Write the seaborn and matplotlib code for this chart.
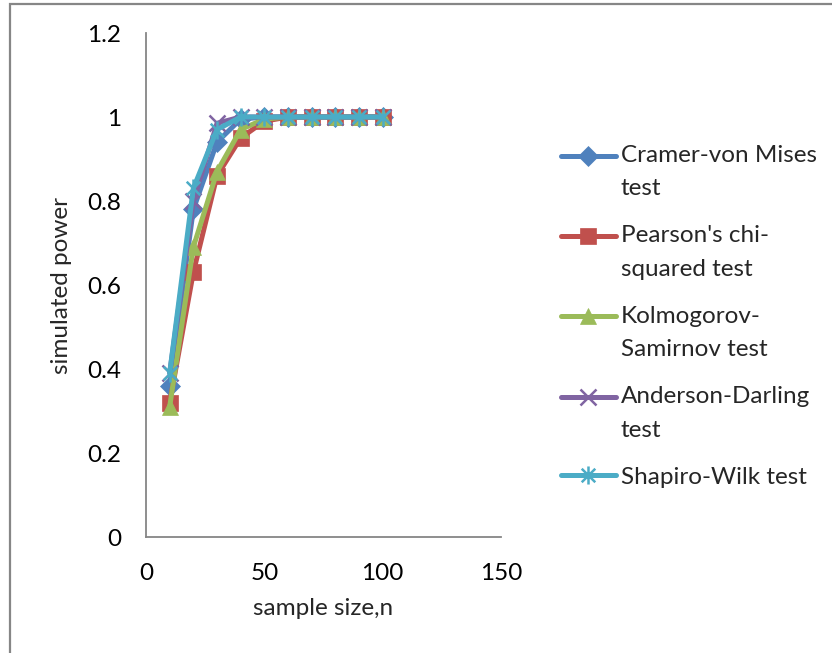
import seaborn as sns
import matplotlib.pyplot as plt
import matplotlib.patches as mpatches
from matplotlib.path import Path
from matplotlib.legend_handler import HandlerLine2D
from matplotlib.lines import Line2D
from matplotlib.font_manager import FontProperties

# sample sizes and simulated power per test
n = [10, 20, 30, 40, 50, 60, 70, 80, 90, 100]
cramer = [0.36, 0.78, 0.94, 0.995, 1.0, 1.0, 1.0, 1.0, 1.0, 1.0]
pearson = [0.32, 0.63, 0.86, 0.95, 0.99, 1.0, 1.0, 1.0, 1.0, 1.0]
kolmogorov = [0.31, 0.69, 0.87, 0.97, 0.995, 1.0, 1.0, 1.0, 1.0, 1.0]
anderson = [0.39, 0.80, 0.985, 1.0, 1.0, 1.0, 1.0, 1.0, 1.0, 1.0]
shapiro = [0.39, 0.83, 0.97, 1.0, 1.0, 1.0, 1.0, 1.0, 1.0, 1.0]

labels = ["Cramer-von Mises\ntest", "Pearson's chi-\nsquared test",
          "Kolmogorov-\nSamirnov test", "Anderson-Darling\ntest",
          "Shapiro-Wilk test"]
colors = ["#4F81BD", "#C0504D", "#9BBB59", "#8064A2", "#4BACC6"]

# excel style asterisk: vertical bar plus an X
star = Path([(0, -1), (0, 1), (-0.75, -0.75), (0.75, 0.75), (-0.75, 0.75), (0.75, -0.75)],
            [Path.MOVETO, Path.LINETO, Path.MOVETO, Path.LINETO, Path.MOVETO, Path.LINETO])
markers = ["D", "s", "^", "x", star]
msizes = [10, 12, 12, 11, 13]

FS = 17.5
DPI = 100


class FirstLineHandler(HandlerLine2D):
    # put the legend handle next to the first text line (like Excel)
    def __init__(self, shift, **kw):
        super().__init__(**kw)
        self.shift = shift

    def create_artists(self, legend, orig_handle, xdescent, ydescent,
                       width, height, fontsize, trans):
        arts = super().create_artists(legend, orig_handle, xdescent, ydescent,
                                      width, height, fontsize, trans)
        for a in arts:
            if isinstance(a, Line2D):
                a.set_ydata([y + self.shift for y in a.get_ydata()])
        return arts


sns.set_style("white")
plt.rcParams['font.family'] = ['Lato', 'DejaVu Sans']

fig = plt.figure(figsize=(8.32, 6.53), dpi=DPI)
ax = fig.add_axes([146 / 832, 1 - 537 / 653, (501 - 146) / 832, (537 - 33) / 653])

series = [cramer, pearson, kolmogorov, anderson, shapiro]
for vals, lab, col, mk, ms in zip(series, labels, colors, markers, msizes):
    sns.lineplot(x=n, y=vals, ax=ax, color=col, marker=mk, markersize=ms,
                 markeredgecolor=col,
                 markeredgewidth=1.8 if (mk is star or mk == "x") else 0.5,
                 linewidth=3.6, label=lab)

ax.set_xlim(0, 150)
ax.set_ylim(0, 1.2)
ax.set_xticks([0, 50, 100, 150])
ax.set_yticks([0, 0.2, 0.4, 0.6, 0.8, 1.0, 1.2])
ax.set_yticklabels(["0", "0.2", "0.4", "0.6", "0.8", "1", "1.2"])
ax.tick_params(length=0, labelsize=FS, colors="black")
ax.tick_params(axis="y", pad=18)
ax.tick_params(axis="x", pad=19)
ax.set_xlabel("sample size,n", fontsize=FS, labelpad=10)
ax.set_ylabel("simulated power", fontsize=FS, labelpad=11)

for side in ["top", "right"]:
    ax.spines[side].set_visible(False)
for side in ["left", "bottom"]:
    ax.spines[side].set_color("#868686")
    ax.spines[side].set_linewidth(1.3)

# line pitch in the legend: about 33 px between text lines
renderer = fig.canvas.get_renderer()
_, lp_h, _ = renderer.get_text_width_height_descent(
    "lp", FontProperties(family=['Lato', 'DejaVu Sans'], size=FS), ismath=False)
LSP = 36.3 / lp_h
shift_pt = 33 * 72 / DPI / 2

handles, labs = ax.get_legend_handles_labels()
hmap = {}
for h, lab in zip(handles, labs):
    hmap[h] = FirstLineHandler(shift_pt if "\n" in lab else 0)

leg = ax.legend(handles, labs, handler_map=hmap, loc="upper left",
                bbox_to_anchor=(561 / 832, 1 - 145 / 653),
                bbox_transform=fig.transFigure, frameon=False, fontsize=FS,
                handlelength=2.25, handletextpad=0.2, labelspacing=1.07,
                borderaxespad=0, borderpad=0)
for t in leg.get_texts():
    t.set_linespacing(LSP)

# outer chart border (only top/left visible in the crop)
fig.patches.append(mpatches.Rectangle((9.5 / 832, -0.1), 1.2, 1.1 - 4.5 / 653,
                                      transform=fig.transFigure, fill=False,
                                      edgecolor="#868686", linewidth=1.6))

fig.savefig("out.png", dpi=DPI)
